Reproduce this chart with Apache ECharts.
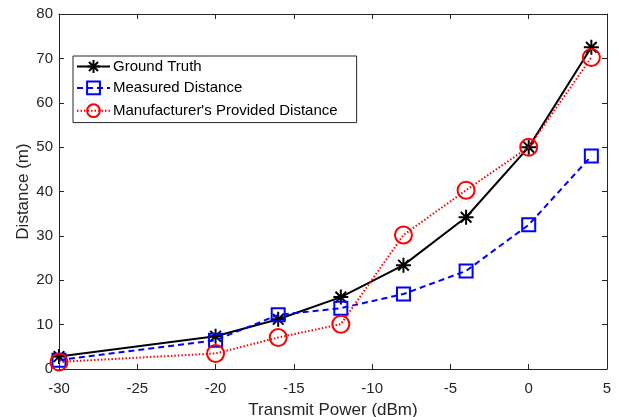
<!DOCTYPE html>
<html>
<head>
<meta charset="utf-8">
<script src="https://cdn.jsdelivr.net/npm/echarts@6/dist/echarts.min.js"></script>
<style>
html, body { margin: 0; padding: 0; background: #fff; }
#chart { width: 619px; height: 417px; }
</style>
</head>
<body>
<div id="chart"></div>
<script>
var power = [-30, -20, -16, -12, -8, -4, 0, 4];
var groundTruth = [2.8, 7.4, 11.2, 16.2, 23.4, 34.2, 50, 72.5];
var measured = [2, 6.5, 12.2, 13.7, 16.9, 22.1, 32.5, 48];
var manufacturer = [1.6, 3.5, 7.1, 10.1, 30.2, 40.3, 50, 70.2];
var xTicks = [-30, -25, -20, -15, -10, -5, 0, 5];
var yTicks = [0, 10, 20, 30, 40, 50, 60, 70, 80];

var axisColor = '#262626';
var fontFamily = 'Liberation Sans, Arial, sans-serif';
// 8-armed asterisk, drawn as strokes
var asterisk = 'path://M0,5L10,5M5,0L5,10M1.46,1.46L8.54,8.54M8.54,1.46L1.46,8.54';

function pairs(ys) {
    return power.map(function (x, i) { return [x, ys[i]]; });
}

var chart = echarts.init(document.getElementById('chart'));

function frameAxis(base, showLabels, pos) {
    return {
        type: 'value',
        position: pos,
        min: base === 'x' ? xTicks[0] : yTicks[0],
        max: base === 'x' ? xTicks[xTicks.length - 1] : yTicks[yTicks.length - 1],
        interval: base === 'x' ? 5 : 10,
        axisLine: { show: true, onZero: false, lineStyle: { color: axisColor, width: 1 } },
        axisTick: { show: true, inside: true, length: 5, lineStyle: { color: axisColor } },
        splitLine: { show: false },
        axisLabel: {
            show: showLabels,
            color: axisColor,
            fontSize: 15,
            fontFamily: fontFamily,
            margin: base === 'x' ? 12 : 6
        }
    };
}

var xBottom = frameAxis('x', true, 'bottom');
xBottom.name = 'Transmit Power (dBm)';
xBottom.nameLocation = 'middle';
xBottom.nameGap = 33;
xBottom.nameMoveOverlap = false;
xBottom.nameTextStyle = { color: axisColor, fontSize: 17, fontFamily: fontFamily };
var yLeft = frameAxis('y', true, 'left');
yLeft.name = 'Distance (m)';
yLeft.nameLocation = 'middle';
yLeft.nameGap = 27;
yLeft.nameMoveOverlap = false;
yLeft.nameTextStyle = { color: axisColor, fontSize: 17, fontFamily: fontFamily };

chart.setOption({
    backgroundColor: '#fff',
    animation: false,
    grid: { left: 59, right: 12, top: 14, bottom: 48, containLabel: false, outerBoundsMode: 'none' },
    xAxis: [xBottom, frameAxis('x', false, 'top')],
    yAxis: [yLeft, frameAxis('y', false, 'right')],
    legend: {
        orient: 'vertical',
        left: 73,
        top: 56,
        padding: [3, 19, 3, 3],
        itemGap: 5,
        itemWidth: 33,
        itemHeight: 16,
        backgroundColor: '#fff',
        borderColor: axisColor,
        borderWidth: 1,
        borderRadius: 0,
        textStyle: { color: '#000', fontSize: 15, fontFamily: fontFamily, padding: [0, 0, 0, -2] },
        data: ['Ground Truth', 'Measured Distance', "Manufacturer's Provided Distance"]
    },
    series: [
        {
            name: 'Ground Truth',
            type: 'line',
            data: pairs(groundTruth),
            symbol: asterisk,
            symbolSize: 15,
            lineStyle: { color: '#000', width: 2, type: 'solid' },
            itemStyle: { color: '#000', borderColor: '#000', borderWidth: 2 },
            z: 2
        },
        {
            name: 'Measured Distance',
            type: 'line',
            data: pairs(measured),
            symbol: 'rect',
            symbolSize: 13,
            lineStyle: { color: '#0000ff', width: 2, type: [6, 4] },
            itemStyle: { color: 'none', borderColor: '#0000ff', borderWidth: 2 },
            z: 3
        },
        {
            name: "Manufacturer's Provided Distance",
            type: 'line',
            data: pairs(manufacturer),
            symbol: 'circle',
            symbolSize: 17,
            lineStyle: { color: '#ff0000', width: 2, type: [1.5, 2] },
            itemStyle: { color: 'none', borderColor: '#ff0000', borderWidth: 2 },
            z: 4
        }
    ]
});
</script>
</body>
</html>
